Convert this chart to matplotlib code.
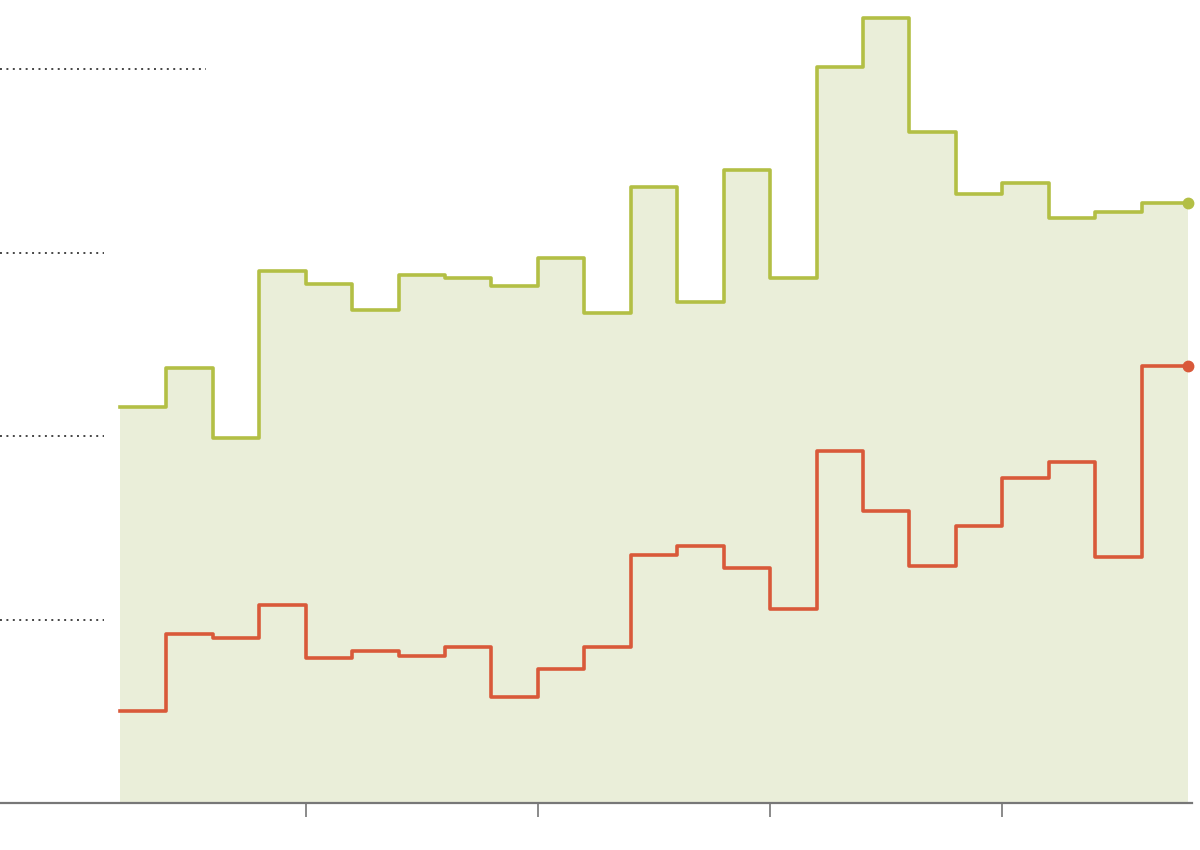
import numpy as np
import matplotlib.pyplot as plt

# step levels, one per period; last entry is the end point (dot)
green = [21.6, 23.7, 19.9, 29.0, 28.3, 26.9, 28.8, 28.6, 28.2, 29.7, 26.7, 33.6,
         27.3, 34.5, 28.6, 40.1, 42.8, 36.6, 33.2, 33.8, 31.9, 32.2, 32.7, 32.7]
red = [5.0, 9.2, 9.0, 10.8, 7.9, 8.3, 8.0, 8.5, 5.8, 7.3, 8.5, 13.5,
       14.0, 12.8, 10.6, 19.2, 15.9, 12.9, 15.1, 17.7, 18.6, 13.4, 23.8, 23.8]
grid_vals = [10, 20, 30, 40]
tick_pos = [4, 9, 14, 19]

GREEN = "#b3bf45"
FILL = "#eaeed9"
RED = "#d9593a"

x = np.arange(len(green))

fig = plt.figure(figsize=(12, 8.5), dpi=100)
ax = fig.add_axes([0, 0.0553, 0.9933, 0.9447])
ax.set_xlim(-2.585, 23.086)
ax.set_ylim(0, 43.78)

ax.fill_between(x, 0, green, step="post", color=FILL, lw=0, zorder=1)
ax.step(x, green, where="post", color=GREEN, lw=2.6, zorder=3, clip_on=False)
ax.step(x, red, where="post", color=RED, lw=2.6, zorder=3, clip_on=False)
ax.plot(x[-1], green[-1], "o", color=GREEN, ms=7.5, zorder=4, clip_on=False)
ax.plot(x[-1], red[-1], "o", color=RED, ms=7.5, zorder=4, clip_on=False)

# dotted leader lines where the y labels sit
for v in grid_vals:
    end = 1.852 if v == grid_vals[-1] else -0.345
    ax.plot([-2.585, end], [v, v], color="#444444", lw=1.4,
            ls=(0, (1, 2.3)), zorder=2, clip_on=False)

for s in ["top", "right", "left"]:
    ax.spines[s].set_visible(False)
ax.spines["bottom"].set_color("#777777")
ax.spines["bottom"].set_linewidth(1.6)
ax.set_xticks(tick_pos)
ax.set_xticklabels([])
ax.tick_params(axis="x", length=10, width=1.2, color="#777777")
ax.set_yticks([])

fig.savefig("out.png", dpi=100)
